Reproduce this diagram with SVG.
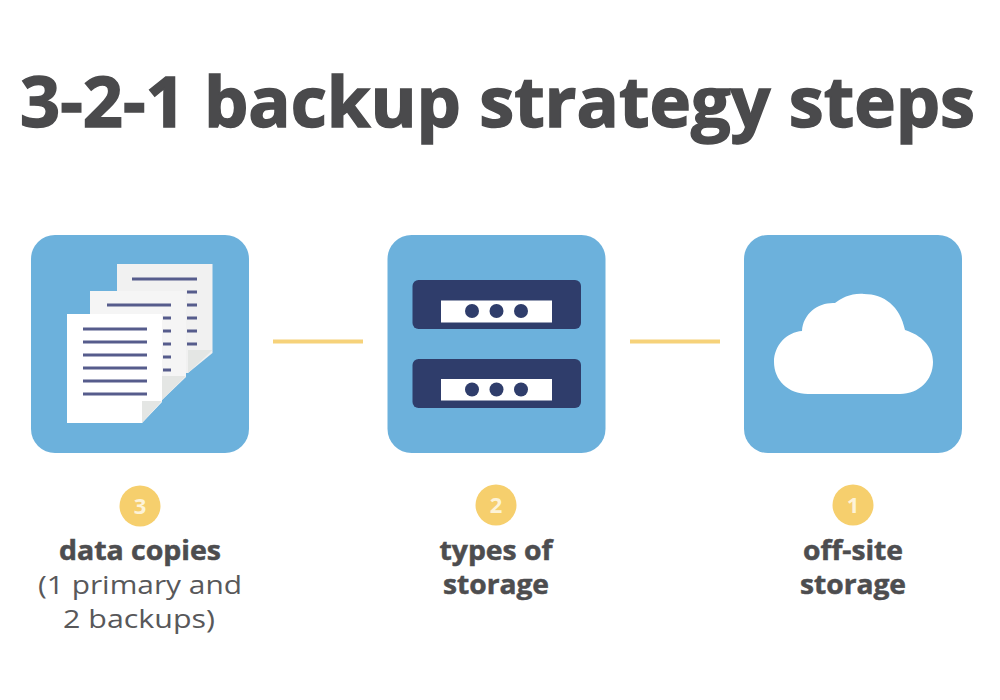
<svg xmlns="http://www.w3.org/2000/svg" width="1000" height="700" viewBox="0 0 1000 700">
<style>
.card{fill:#6cb1dc}
.title{font:700 70px "Open Sans","Liberation Sans",sans-serif;fill:#4a4a4c;stroke:#4a4a4c;stroke-width:1.5}
.b{font:700 26px "Open Sans","Liberation Sans",sans-serif;fill:#4d4d4f;text-anchor:middle;stroke:#4d4d4f;stroke-width:.5}
.r{font:400 26px "Open Sans","Liberation Sans",sans-serif;fill:#58585a;text-anchor:middle}
.n{font:700 22px "Open Sans","Liberation Sans",sans-serif;fill:#fdf3d8;text-anchor:middle}
.badge{fill:#f6cf6d}
.line{stroke:#f6d27a;stroke-width:4;fill:none}
.fold{fill:#e4e6e4}
.t{stroke:#565c8c;stroke-width:3;fill:none}
.rack{fill:#2f3d6b}
.dot{fill:#2f3d6b}
</style>
<rect width="1000" height="700" fill="#fff"/>
<text class="title" x="20" y="127" textLength="955" lengthAdjust="spacingAndGlyphs">3-2-1 backup strategy steps</text>
<g id="connectors"><path class="line" d="M273 341.500H363"/><path class="line" d="M630 341.500H720"/></g>
<g id="node-3">
<rect class="card" x="31" y="235" width="218" height="218" rx="24"/>
<path fill="#f1f1f1" d="M117 264H212.500V353L188 373H117Z"/><path class="fold" d="M188 350H212.500L188 373Z"/>
<path fill="#f5f5f5" d="M90 291H186V377L162 400H90Z"/><path class="fold" d="M162 376H186L162 400Z"/>
<path fill="#fff" d="M67 314H162V402L142 423H67Z"/><path class="fold" d="M142 401H162L142 423Z"/>
<path class="t" d="M132 279H197M187 292H197M187 305H197M187 318H197M187 331H197M187 344H197"/>
<path class="t" d="M107 305H171M163 318H171M163 331H171M163 344H171M163 357H171M163 370H171"/>
<path class="t" d="M83 329H147M83 342H147M83 355H147M83 368H147M83 381H147M83 394H147"/>
</g>
<g id="node-2">
<rect class="card" x="387.500" y="235" width="218" height="218" rx="24"/>
<rect class="rack" x="412.500" y="280" width="168.500" height="49" rx="6"/>
<rect x="441" y="300.500" width="111" height="22" fill="#fff"/>
<circle class="dot" cx="472" cy="311" r="7"/><circle class="dot" cx="496.500" cy="311" r="7"/><circle class="dot" cx="521" cy="311" r="7"/>
<rect class="rack" x="412.500" y="359" width="168.500" height="49" rx="6"/>
<rect x="441" y="379" width="111" height="21.500" fill="#fff"/>
<circle class="dot" cx="472" cy="389.500" r="7"/><circle class="dot" cx="496.500" cy="389.500" r="7"/><circle class="dot" cx="521" cy="389.500" r="7"/>
</g>
<g id="node-1">
<rect class="card" x="744" y="235" width="218" height="218" rx="24"/>
<path fill="#fff" d="M808 394C788 394 774 380 774 362C774 345 787 332 802 331C803 313 819 302 835 303C842 298 851 293 864 294C884 294 900 306 905 330C921 335 933 346 933 362C933 380 919 394 900 394Z"/>
</g>
<g id="label-3"><circle class="badge" cx="140" cy="506" r="20.500"/><text class="n" x="140" y="514">3</text>
<text class="b" x="140" y="560" textLength="162" lengthAdjust="spacingAndGlyphs">data copies</text><text class="r" x="140" y="594" textLength="204" lengthAdjust="spacingAndGlyphs">(1 primary and</text><text class="r" x="139" y="628" textLength="152" lengthAdjust="spacingAndGlyphs">2 backups)</text></g>
<g id="label-2"><circle class="badge" cx="496" cy="505" r="20.500"/><text class="n" x="496" y="513">2</text>
<text class="b" x="496" y="560" textLength="113" lengthAdjust="spacingAndGlyphs">types of</text><text class="b" x="496" y="594" textLength="106" lengthAdjust="spacingAndGlyphs">storage</text></g>
<g id="label-1"><circle class="badge" cx="853" cy="505" r="20.500"/><text class="n" x="853" y="513">1</text>
<text class="b" x="853" y="560" textLength="100" lengthAdjust="spacingAndGlyphs">off-site</text><text class="b" x="853" y="594" textLength="106" lengthAdjust="spacingAndGlyphs">storage</text></g>
</svg>
